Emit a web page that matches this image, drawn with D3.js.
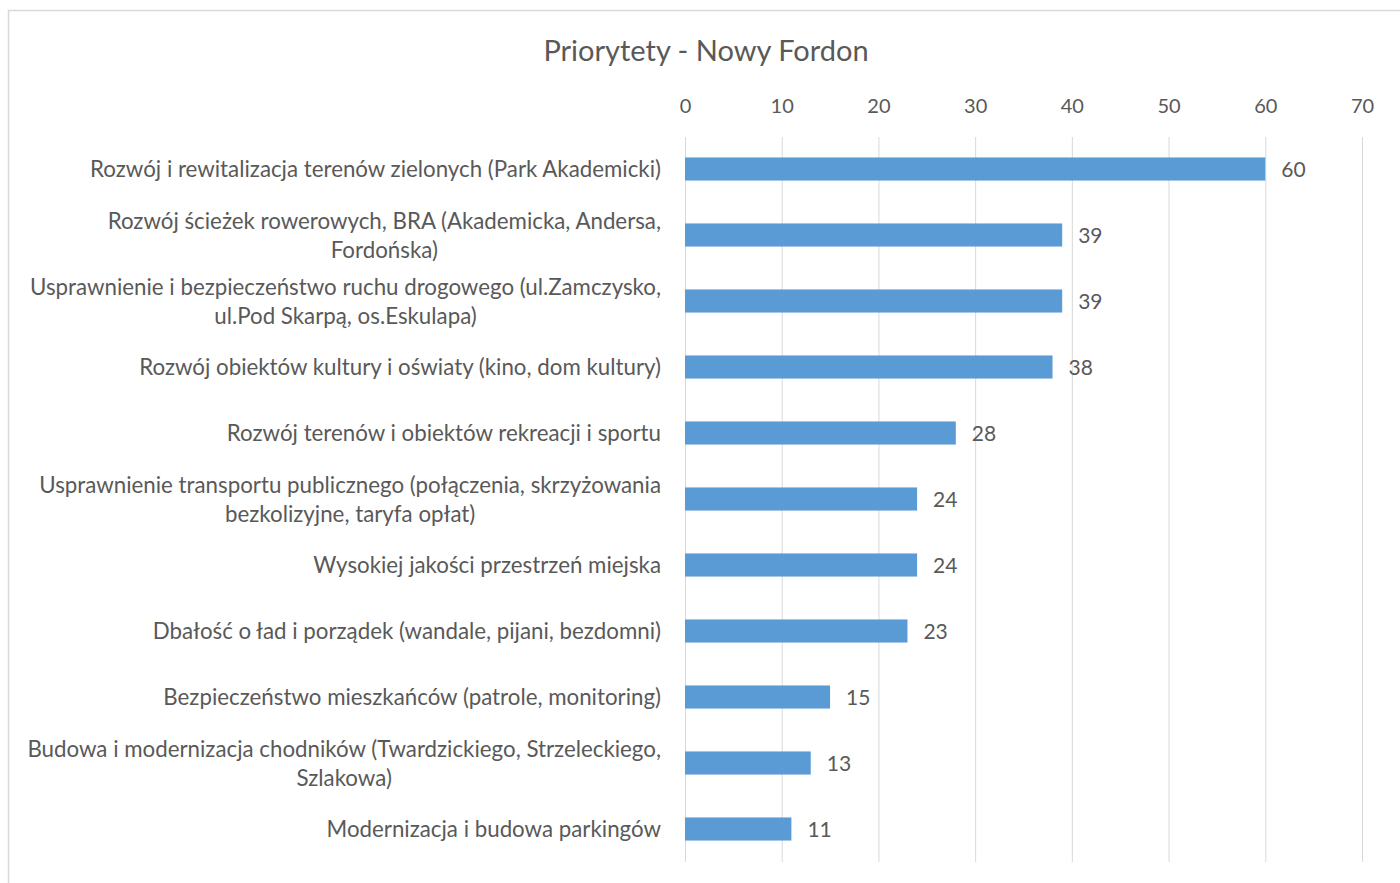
<!DOCTYPE html>
<html><head><meta charset="utf-8">
<script src="https://cdn.jsdelivr.net/npm/d3@7"></script>
<style>body{margin:0;background:#fff;} text{font-family:Lato,"Open Sans",sans-serif;}</style>
</head><body>
<svg id="c" width="1400" height="883"></svg>
<script>
const categories = [
  ["Rozwój i rewitalizacja terenów zielonych (Park Akademicki)"],
  ["Rozwój ścieżek rowerowych, BRA (Akademicka, Andersa,", "Fordońska)"],
  ["Usprawnienie i bezpieczeństwo ruchu drogowego (ul.Zamczysko,", "ul.Pod Skarpą, os.Eskulapa)"],
  ["Rozwój obiektów kultury i oświaty (kino, dom kultury)"],
  ["Rozwój terenów i obiektów rekreacji i sportu"],
  ["Usprawnienie transportu publicznego (połączenia, skrzyżowania", "bezkolizyjne, taryfa opłat)"],
  ["Wysokiej jakości przestrzeń miejska"],
  ["Dbałość o ład i porządek (wandale, pijani, bezdomni)"],
  ["Bezpieczeństwo mieszkańców (patrole, monitoring)"],
  ["Budowa i modernizacja chodników (Twardzickiego, Strzeleckiego,", "Szlakowa)"],
  ["Modernizacja i budowa parkingów"]
];
const values = [60, 39, 39, 38, 28, 24, 24, 23, 15, 13, 11];
const tickValues = [0, 10, 20, 30, 40, 50, 60, 70];
const title = "Priorytety - Nowy Fordon";

const svg = d3.select("#c");
const textColor = "#595959", gridColor = "#d9d9d9", barColor = "#5b9bd5";

svg.append("path").attr("d", "M8.5,900 L8.5,10.5 L1410,10.5").attr("fill","none").attr("stroke", gridColor).attr("stroke-width",1.5);

svg.append("text").attr("x", 706).attr("y", 61).attr("text-anchor","middle")
  .attr("font-size", 29).attr("fill", textColor).text(title);

const x = d3.scaleLinear().domain([0, 70]).range([685, 1362]);
const idx = d3.range(values.length);
const y = d3.scaleBand().domain(idx).range([136, 862]).paddingInner(0.65).paddingOuter(0.325);

svg.append("g").selectAll("line").data(tickValues).join("line")
  .attr("x1", d => x(d) + 0.5).attr("x2", d => x(d) + 0.5)
  .attr("y1", 137).attr("y2", 862).attr("stroke", gridColor).attr("stroke-width", 1);

const ax = svg.append("g").attr("transform", "translate(0,113)")
  .call(d3.axisTop(x).tickValues(tickValues).tickSize(0).tickPadding(0));
ax.select(".domain").remove();
ax.selectAll("text").attr("font-size", 20).attr("fill", textColor).attr("font-family","Lato");

svg.append("g").selectAll("rect").data(idx).join("rect")
  .attr("x", x(0)).attr("y", i => y(i)).attr("height", y.bandwidth())
  .attr("width", i => x(values[i]) - x(0)).attr("fill", barColor);

svg.append("g").selectAll("text").data(idx).join("text")
  .attr("x", i => x(values[i]) + 16).attr("y", i => y(i) + y.bandwidth()/2)
  .attr("dy", "0.38em").attr("font-size", 21).attr("fill", textColor)
  .text(i => values[i]);

const fs = 22.3;
const lg = svg.append("g");
idx.forEach(i => {
  const lines = categories[i];
  const cy = y(i) + y.bandwidth()/2;
  const lh = 29;
  const t = lg.append("text").attr("font-size", fs).attr("fill", textColor);
  lines.forEach((ln, k) => {
    t.append("tspan").attr("x", 0).attr("y", cy + (k - (lines.length-1)/2) * lh).attr("dy","0.36em").text(ln);
  });
  const widths = [];
  t.selectAll("tspan").each(function(){ widths.push(this.getComputedTextLength()); });
  const maxW = d3.max(widths);
  const right = 661;
  t.selectAll("tspan").attr("x", (d, k) => right - maxW + (maxW - widths[k]) / 2);
});
</script>
</body></html>
